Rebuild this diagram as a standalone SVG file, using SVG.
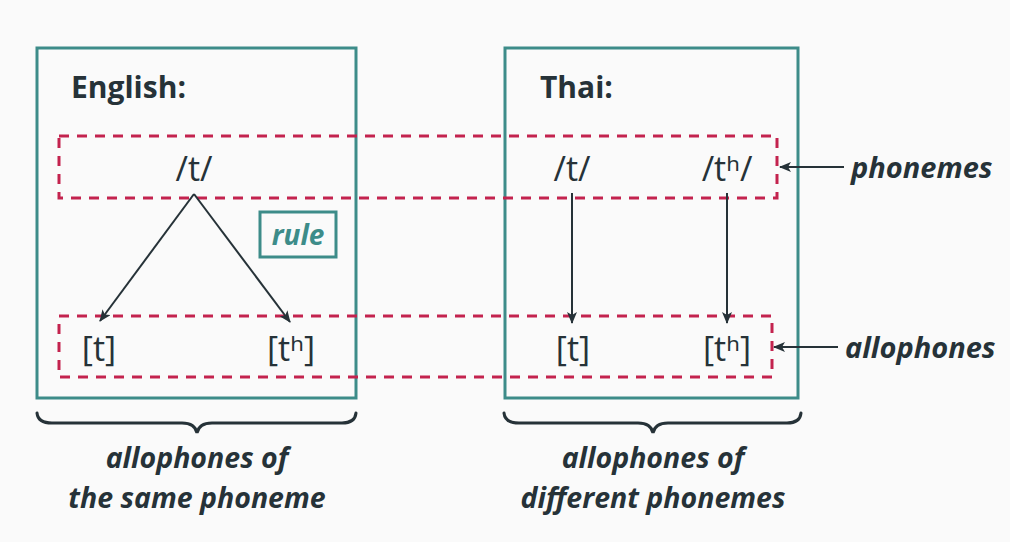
<svg xmlns="http://www.w3.org/2000/svg" width="1010" height="542" viewBox="0 0 1010 542">
<defs>
<marker id="ah" markerWidth="12" markerHeight="10" refX="11" refY="5" orient="auto" markerUnits="userSpaceOnUse">
<path d="M0,0 L12,5 L0,10 L3,5 Z" fill="#263238"/>
</marker>
<style>
.frame{fill:none;stroke:#3d8c89;stroke-width:3}
.dash{fill:none;stroke:#c3234e;stroke-width:3;stroke-dasharray:10 8}
.conn{stroke:#263238;stroke-width:2;fill:none}
.brace{stroke:#263238;stroke-width:3;fill:none;stroke-linecap:round}
.sym{font-family:"Open Sans","Noto Sans",sans-serif;font-size:34px;fill:#263238;text-anchor:middle}
.head{font-family:"Open Sans","Noto Sans",sans-serif;font-size:30px;font-weight:bold;fill:#263238}
.lab{font-family:"Open Sans","Noto Sans",sans-serif;font-size:29px;font-weight:bold;font-style:italic;fill:#263238}
.cap{font-family:"Open Sans","Noto Sans",sans-serif;font-size:28.5px;font-weight:bold;font-style:italic;fill:#263238;text-anchor:middle}
</style>
</defs>
<rect width="1010" height="542" fill="#fafafa"/>
<g id="english">
<rect class="frame" x="37" y="48" width="319" height="350"/>
<text class="head" x="71" y="98">English:</text>
</g>
<g id="thai">
<rect class="frame" x="505" y="48" width="293" height="350"/>
<text class="head" x="540" y="98">Thai:</text>
</g>
<g id="phonemes-row">
<rect class="dash" x="59" y="136" width="718" height="62"/>
</g>
<g id="allophones-row">
<rect class="dash" x="59" y="316" width="713" height="61"/>
</g>
<g id="rule">
<rect class="frame" x="260" y="212" width="76" height="45"/>
<text class="lab" x="298" y="245" text-anchor="middle" style="fill:#3d8c89;font-size:28px">rule</text>
</g>
<g id="en-t-phoneme"><text class="sym" x="194" y="181">/t/</text></g>
<g id="en-t-allo"><text class="sym" x="99" y="361">[t]</text></g>
<g id="en-th-allo"><text class="sym" x="291" y="361">[tʰ]</text></g>
<g id="th-t-phoneme"><text class="sym" x="572" y="181">/t/</text></g>
<g id="th-th-phoneme"><text class="sym" x="727" y="181">/tʰ/</text></g>
<g id="th-t-allo"><text class="sym" x="573" y="361">[t]</text></g>
<g id="th-th-allo"><text class="sym" x="727" y="361">[tʰ]</text></g>
<g id="label-phonemes"><text class="lab" x="851" y="178">phonemes</text></g>
<g id="label-allophones"><text class="lab" x="845" y="358">allophones</text></g>
<g id="caption-en">
<path class="brace" d="M37,413 Q38,423 52,423 L182,423 Q195,423 197,433 Q199,423 212,423 L342,423 Q355,423 356,413"/>
<text class="cap" x="197" y="468">allophones of</text>
<text class="cap" x="197" y="508">the same phoneme</text>
</g>
<g id="caption-th">
<path class="brace" d="M504,413 Q505,423 519,423 L638,423 Q651,423 653,433 Q655,423 668,423 L787,423 Q800,423 801,413"/>
<text class="cap" x="653" y="468">allophones of</text>
<text class="cap" x="653" y="508">different phonemes</text>
</g>
<g id="connectors">
<line class="conn" x1="194" y1="194" x2="100" y2="321" marker-end="url(#ah)"/>
<line class="conn" x1="194" y1="194" x2="290" y2="322" marker-end="url(#ah)"/>
<line class="conn" x1="572" y1="193" x2="572" y2="323" marker-end="url(#ah)"/>
<line class="conn" x1="727" y1="193" x2="727" y2="323" marker-end="url(#ah)"/>
<line class="conn" x1="844" y1="167" x2="780" y2="167" marker-end="url(#ah)"/>
<line class="conn" x1="838" y1="347" x2="774" y2="347" marker-end="url(#ah)"/>
</g>
</svg>
